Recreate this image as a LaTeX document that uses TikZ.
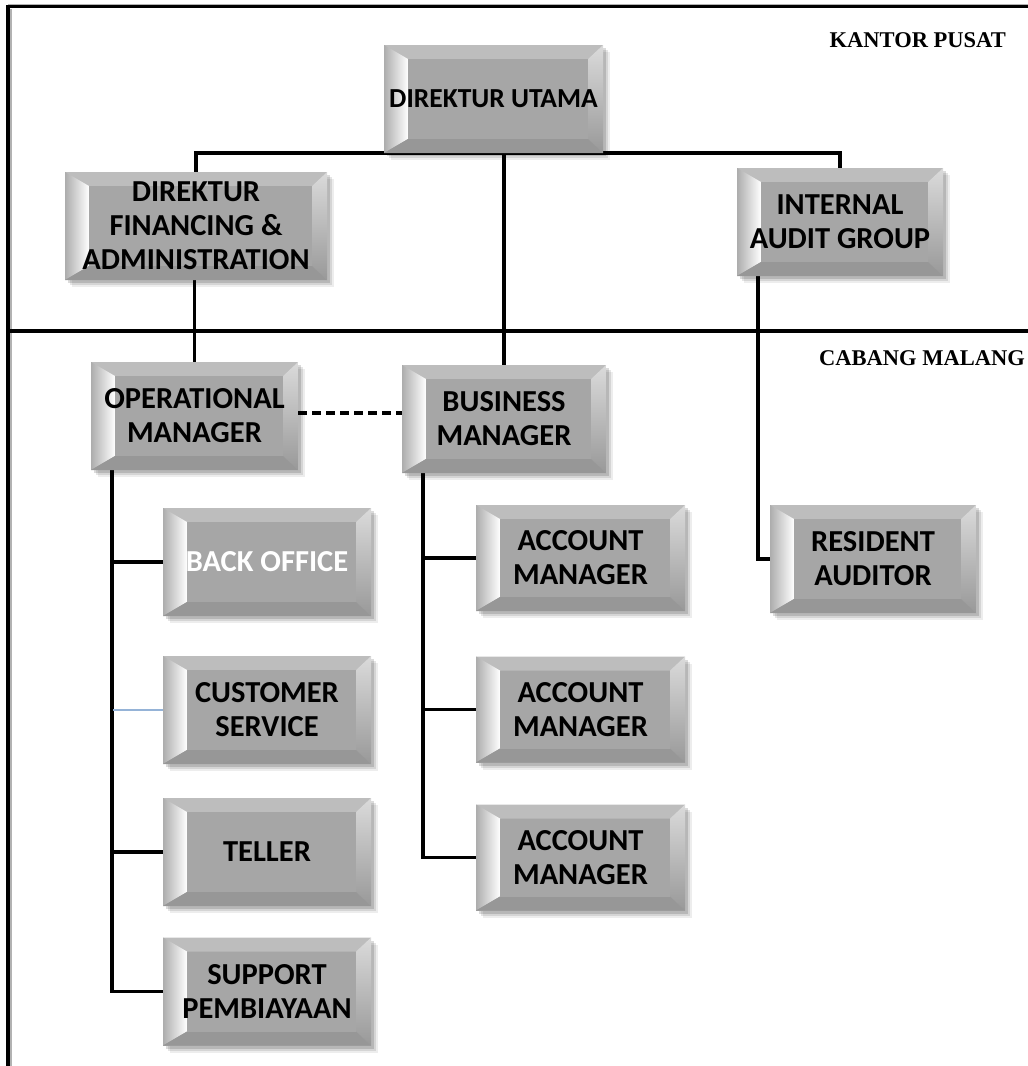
\documentclass[tikz,border=0pt]{standalone}
\usepackage{fontspec}
\setmainfont{Carlito}
\newfontfamily\labelserif{Liberation Serif}
\usetikzlibrary{shadows,backgrounds}

\definecolor{boxface}{HTML}{A6A6A6}
\definecolor{bevtop}{HTML}{BDBDBD}
\definecolor{bevbottom}{HTML}{979797}
\definecolor{bevedge}{HTML}{ADADAD}
\definecolor{thinblue}{HTML}{95B3D7}

\tikzset{
  orgbox/.style={
    rectangle, inner sep=0pt, fill=boxface, align=center,
    font=\fontsize{30.5}{34}\selectfont\bfseries,
    % soft shadow built from a few faint offset copies
    general shadow={shadow xshift=7pt, shadow yshift=-7pt, fill=black, opacity=0.07},
    general shadow={shadow xshift=5pt, shadow yshift=-5pt, fill=black, opacity=0.10},
    general shadow={shadow xshift=3pt, shadow yshift=-3pt, fill=black, opacity=0.14},
    path picture={
      % bevelled frame: top, left, right and bottom faces
      \fill[bevtop] (path picture bounding box.north west) -- (path picture bounding box.north east)
        -- ([shift={(-15pt,-14pt)}]path picture bounding box.north east)
        -- ([shift={(15pt,-14pt)}]path picture bounding box.north west) -- cycle;
      \shade[left color=bevedge, right color=white] (path picture bounding box.north west)
        -- ([shift={(24pt,-14pt)}]path picture bounding box.north west)
        -- ([shift={(24pt,14pt)}]path picture bounding box.south west)
        -- (path picture bounding box.south west) -- cycle;
      \shade[top color=bevtop!55!white, bottom color=boxface!92!black] (path picture bounding box.north east)
        -- ([shift={(-15pt,-14pt)}]path picture bounding box.north east)
        -- ([shift={(-15pt,14pt)}]path picture bounding box.south east)
        -- (path picture bounding box.south east) -- cycle;
      \fill[bevbottom] (path picture bounding box.south west) -- (path picture bounding box.south east)
        -- ([shift={(-15pt,14pt)}]path picture bounding box.south east)
        -- ([shift={(24pt,14pt)}]path picture bounding box.south west) -- cycle;
      \fill[boxface] ([shift={(24pt,-14pt)}]path picture bounding box.north west)
        rectangle ([shift={(-15pt,14pt)}]path picture bounding box.south east);
    }
  },
  link/.style={line width=3.5pt, black},
  blueline/.style={line width=2.5pt, thinblue},
  dashlink/.style={line width=4pt, black, dash pattern=on 9pt off 5pt},
  section/.style={font=\labelserif\fontsize{22.5}{26}\selectfont\bfseries, inner sep=0pt},
}

\begin{document}
\begin{tikzpicture}[x=1pt, y=-1pt]
\useasboundingbox (0,0) rectangle (1028,1066);

% page frame and the line between head office and branch
\draw[gray!60, line width=1.5pt] (11,9) -- (11,1066);
\draw[gray!60, line width=1.5pt] (8,4.5) -- (1028,4.5);
\draw[line width=3.5pt] (8,1066) -- (8,6.5) -- (1028,6.5);
\draw[line width=3.5pt] (8,331) -- (1028,331);

\node[section, anchor=east] (kp) at (1006,40) {KANTOR PUSAT};
\node[section, anchor=east] (cm) at (1025,358) {CABANG MALANG};

% head office
\node[orgbox, minimum width=219pt, minimum height=108pt, font=\fontsize{27.5}{34}\selectfont\bfseries] (du) at (493.5,99) {DIREKTUR UTAMA};
\node[orgbox, minimum width=262pt, minimum height=108pt] (df) at (196,226) {DIREKTUR\\FINANCING \&\\ADMINISTRATION};
\node[orgbox, minimum width=206pt, minimum height=108pt] (ia) at (840,222) {INTERNAL\\AUDIT GROUP};

% branch managers
\node[orgbox, minimum width=207pt, minimum height=108pt] (om) at (194.5,416) {OPERATIONAL\\MANAGER};
\node[orgbox, minimum width=204pt, minimum height=108pt] (bm) at (504,419) {BUSINESS\\MANAGER};

% operations staff
\node[orgbox, minimum width=208pt, minimum height=108pt, text=white] (bo) at (267,562) {BACK OFFICE};
\node[orgbox, minimum width=208pt, minimum height=108pt] (cs) at (267,710) {CUSTOMER\\SERVICE};
\node[orgbox, minimum width=208pt, minimum height=108pt] (te) at (267,852) {TELLER};
\node[orgbox, minimum width=208pt, minimum height=108pt] (sp) at (267,991.5) {SUPPORT\\PEMBIAYAAN};

% business staff
\node[orgbox, minimum width=209pt, minimum height=106pt] (am1) at (580.5,558) {ACCOUNT\\MANAGER};
\node[orgbox, minimum width=209pt, minimum height=106pt] (am2) at (580.5,709.5) {ACCOUNT\\MANAGER};
\node[orgbox, minimum width=209pt, minimum height=106pt] (am3) at (580.5,857.5) {ACCOUNT\\MANAGER};

% audit
\node[orgbox, minimum width=206pt, minimum height=108pt] (ra) at (873,559) {RESIDENT\\AUDITOR};

\begin{scope}[on background layer]
  % head office links
  \draw[link] (df.north) |- (du.south);
  \draw[link] (du.south) -| (ia.north);
  \draw[link] (bm.north) -- (bm.north |- du.south);
  \draw[link] (om.north |- df.south) -- (om.north);
  % audit line
  \coordinate (iav) at ([xshift=21pt]ia.south west);
  \draw[link] (iav) |- (ra.west);
  % operations line
  \coordinate (omv) at ([xshift=21pt]om.south west);
  \draw[link] (omv) |- (sp.west);
  \draw[link] (omv |- bo.west) -- (bo.west);
  \draw[blueline] ([xshift=1.5pt]omv |- cs.west) -- (cs.west);
  \draw[link] (omv |- te.west) -- (te.west);
  % business line
  \coordinate (bmv) at ([xshift=21pt]bm.south west);
  \draw[link] (bmv) |- (am3.west);
  \draw[link] (bmv |- am1.west) -- (am1.west);
  \draw[link] (bmv |- am2.west) -- (am2.west);
  % coordination between managers
  \draw[dashlink] (om.east |- 0,413) -- (bm.west |- 0,413);
\end{scope}
\end{tikzpicture}
\end{document}
